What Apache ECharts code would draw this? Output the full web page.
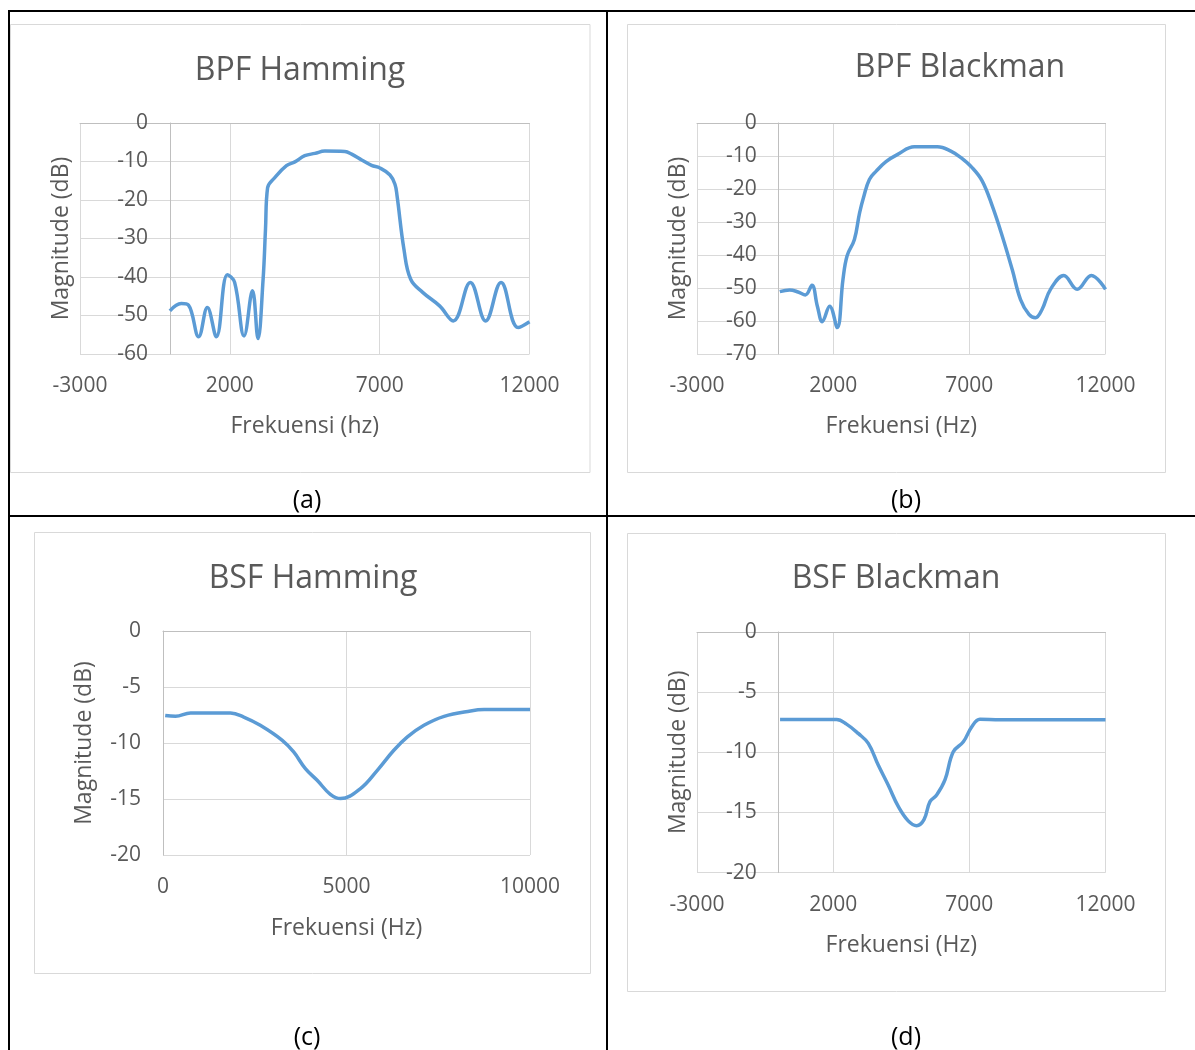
<!DOCTYPE html>
<html>
<head>
<meta charset="utf-8">
<script src="https://cdn.jsdelivr.net/npm/echarts@6/dist/echarts.min.js"></script>
<style>
html,body{margin:0;padding:0;background:#fff;}
#chart{width:1195px;height:1050px;}
</style>
</head>
<body>
<div id="chart"></div>
<script>
// ---- Data ----
const titles = ['BPF Hamming', 'BPF Blackman', 'BSF Hamming', 'BSF Blackman'];
const xNames = ['Frekuensi (hz)', 'Frekuensi (Hz)', 'Frekuensi (Hz)', 'Frekuensi (Hz)'];
const yName = 'Magnitude (dB)';
const captions = ['(a)', '(b)', '(c)', '(d)'];

// (a) BPF Hamming
const bpfHammingFreq = [0, 380, 620, 960, 1250, 1550, 1920, 2160, 2475, 2755, 2940, 3110, 3190, 3260, 3500, 3890, 4170, 4500, 4840, 5170, 5840, 6065, 6400, 6730, 7010, 7345, 7510, 7580, 7810, 8035, 8435, 9000, 9455, 10025, 10535, 11050, 11620, 12000];
const bpfHammingMag  = [-48.8, -46.9, -47.3, -55.5, -47.9, -55.5, -39.4, -41.4, -55.3, -43.6, -56, -40.6, -27.6, -16.8, -14.2, -11.1, -10.1, -8.5, -7.9, -7.3, -7.4, -8.1, -9.6, -11, -11.7, -13.5, -15.9, -18.9, -32.8, -40.6, -44, -47.5, -51.4, -41.4, -51.4, -41.4, -53.1, -51.6];

// (b) BPF Blackman
const bpfBlackmanFreq = [40, 400, 710, 980, 1220, 1420, 1600, 1870, 2150, 2360, 2510, 2780, 2970, 3130, 3330, 3580, 3940, 4370, 4980, 5830, 6320, 6690, 7110, 7475, 7845, 8210, 8575, 8880, 9190, 9430, 9670, 9980, 10470, 10960, 11480, 12000];
const bpfBlackmanMag  = [-51.1, -50.6, -51.2, -52.1, -49.2, -55.5, -60.2, -55.5, -62, -47.4, -40.3, -35.3, -27.2, -22.1, -17.1, -14.6, -11.7, -9.5, -7.2, -7.2, -8.5, -10.5, -13.6, -17.6, -25.2, -34.3, -44.4, -53.5, -58, -59, -56.5, -50.4, -46.2, -50.4, -46.2, -50.4];

// (c) BSF Hamming
const bsfHammingFreq = [60, 340, 750, 1300, 1840, 2200, 2650, 3250, 3560, 3880, 4200, 4560, 4840, 5380, 5840, 6290, 6660, 7110, 7660, 8380, 8750, 10000];
const bsfHammingMag  = [-7.55, -7.62, -7.32, -7.32, -7.32, -7.68, -8.42, -9.76, -10.8, -12.29, -13.33, -14.58, -14.96, -14.07, -12.44, -10.65, -9.46, -8.42, -7.62, -7.14, -7.02, -7.02];

// (d) BSF Blackman
const bsfBlackmanFreq = [50, 1000, 2125, 2490, 2920, 3290, 3655, 4020, 4390, 4755, 5065, 5335, 5555, 5800, 6105, 6410, 6780, 7085, 7390, 8130, 10000, 12000];
const bsfBlackmanMag  = [-7.28, -7.28, -7.28, -7.66, -8.43, -9.26, -11.06, -12.72, -14.5, -15.7, -16.1, -15.6, -14.1, -13.55, -12.3, -9.96, -9.13, -7.89, -7.25, -7.3, -7.3, -7.3];

// axis ranges and tick intervals
const xMins = [-3000, -3000, 0, -3000];
const xMaxs = [12000, 12000, 10000, 12000];
const xSteps = [5000, 5000, 5000, 5000];
const yMins = [-60, -70, -20, -20];
const yMaxs = [0, 0, 0, 0];
const ySteps = [10, 10, 5, 5];

// ---- Layout / style ----
const FONT = '"Open Sans", "Liberation Sans", sans-serif';
const TXT = '#595959';
const grids = [
  {left: 80,  top: 123, width: 449.5, height: 231},
  {left: 697, top: 123, width: 408.5, height: 231},
  {left: 163, top: 631, width: 367,   height: 224},
  {left: 697, top: 632, width: 408.5, height: 240.6}
];
const yNameGaps = [97, 89, 67, 89];
const xNameGaps = [61, 61, 62, 61];
const titlePos = [[300, 55], [960, 52], [313, 563], [896, 563]];
const captionPos = [[307, 501], [906, 501], [307, 1038], [906, 1038]];
const boxes = [[10.5, 24.5, 579.5, 448], [627.5, 24.5, 538, 448], [34.5, 532.5, 556, 441], [627.5, 533.5, 538, 458]];

const seriesSrc = [
  [bpfHammingFreq, bpfHammingMag],
  [bpfBlackmanFreq, bpfBlackmanMag],
  [bsfHammingFreq, bsfHammingMag],
  [bsfBlackmanFreq, bsfBlackmanMag]
];

const plain = v => String(v);

const option = {
  backgroundColor: '#fff',
  animation: false,
  textStyle: {fontFamily: FONT},
  title: titles.map((t, i) => ({
    text: t, left: titlePos[i][0], top: titlePos[i][1], textAlign: 'center', padding: 0,
    textStyle: {fontSize: 32, fontWeight: 'normal', color: TXT, fontFamily: FONT}
  })),
  grid: grids.map(g => Object.assign({containLabel: false, outerBoundsMode: 'none'}, g)),
  xAxis: [],
  yAxis: [],
  series: [],
  graphic: []
};

for (let i = 0; i < 4; i++) {
  option.xAxis.push({
    gridIndex: i, type: 'value', position: 'bottom',
    min: xMins[i], max: xMaxs[i], interval: xSteps[i],
    axisLine: {show: false, onZero: false},
    axisTick: {show: false},
    axisLabel: {color: TXT, fontSize: 21, fontFamily: FONT, margin: 22, formatter: plain},
    splitLine: {show: true, lineStyle: {color: '#d9d9d9', width: 1}},
    name: xNames[i], nameLocation: 'middle', nameGap: xNameGaps[i],
    nameTextStyle: {color: TXT, fontSize: 23, fontFamily: FONT}
  });
}
for (let i = 0; i < 4; i++) {
  option.xAxis.push({
    gridIndex: i, type: 'value', position: 'top',
    min: xMins[i], max: xMaxs[i], interval: xSteps[i],
    axisLine: {show: true, onZero: false, lineStyle: {color: '#bfbfbf', width: 1}},
    axisTick: {show: false}, axisLabel: {show: false}, splitLine: {show: false}
  });
}
for (let i = 0; i < 4; i++) {
  // the vertical axis crosses the horizontal one at frequency 0
  const zeroShift = (0 - xMins[i]) / (xMaxs[i] - xMins[i]) * grids[i].width;
  option.yAxis.push({
    gridIndex: i, type: 'value', position: 'left', offset: -zeroShift,
    min: yMins[i], max: yMaxs[i], interval: ySteps[i],
    axisLine: {show: true, onZero: false, lineStyle: {color: '#bfbfbf', width: 1}},
    axisTick: {show: false},
    axisLabel: {color: TXT, fontSize: 21, fontFamily: FONT, margin: 22, formatter: plain},
    splitLine: {show: true, lineStyle: {color: '#d9d9d9', width: 1}},
    name: yName, nameLocation: 'middle', nameGap: yNameGaps[i],
    nameTextStyle: {color: TXT, fontSize: 23, fontFamily: FONT}
  });
  const xs = seriesSrc[i][0], ys = seriesSrc[i][1];
  option.series.push({
    type: 'line', name: titles[i], xAxisIndex: i, yAxisIndex: i,
    data: xs.map((x, k) => [x, ys[k]]),
    showSymbol: false, smooth: 0.4,
    lineStyle: {color: '#5b9bd5', width: 3.5},
    itemStyle: {color: '#5b9bd5'}
  });
}

// chart frames
boxes.forEach(b => {
  option.graphic.push({
    type: 'rect', silent: true, z: -10,
    shape: {x: b[0], y: b[1], width: b[2], height: b[3]},
    style: {fill: 'transparent', stroke: '#d9d9d9', lineWidth: 1}
  });
});
// table lines
[[8, 11, 1195, 11], [9, 10, 9, 1050], [607, 10, 607, 1050], [8, 516, 1195, 516]].forEach(l => {
  option.graphic.push({
    type: 'line', silent: true,
    shape: {x1: l[0], y1: l[1], x2: l[2], y2: l[3]},
    style: {stroke: '#000', lineWidth: 2}
  });
});
// captions
captions.forEach((c, i) => {
  option.graphic.push({
    type: 'text', silent: true, x: captionPos[i][0], y: captionPos[i][1],
    style: {text: c, fill: '#000', font: '25px ' + FONT, textAlign: 'center', textVerticalAlign: 'middle', align: 'center', verticalAlign: 'middle'}
  });
});

const chart = echarts.init(document.getElementById('chart'), null, {renderer: 'canvas'});
chart.setOption(option);
</script>
</body>
</html>
